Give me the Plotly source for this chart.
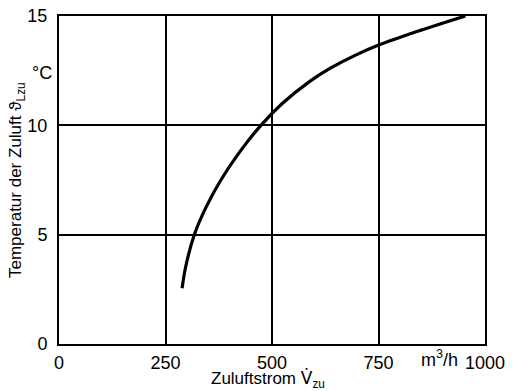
import plotly.graph_objects as go

# Curve data (supply air flow m3/h, supply air temperature °C)
flow = [289, 297, 317.6, 345, 380, 423, 474, 524, 588, 636, 695, 752, 842, 954]
temp = [2.55, 3.5, 5.0, 6.25, 7.5, 8.75, 10.0, 11.0, 12.0, 12.6, 13.2, 13.68, 14.3, 15.0]

x_ticks = [0, 250, 500, 750, 1000]
x_ticktext = ["0", "250", "500", "750", "1000"]
y_ticks = [0, 5, 10, 15]
y_ticktext = ["0", "5", "10", "15"]

FONT = "Liberation Sans"

fig = go.Figure()
fig.add_trace(go.Scatter(x=flow, y=temp, mode="lines",
                         line=dict(color="black", width=3.2, shape="spline", smoothing=1.0),
                         showlegend=False, hoverinfo="skip"))

fig.update_layout(
    width=513, height=391,
    margin=dict(l=59, r=28, t=16, b=47),
    paper_bgcolor="white", plot_bgcolor="white",
    font=dict(family=FONT, size=18, color="black"),
    xaxis=dict(range=[0, 1000], tickvals=x_ticks, ticktext=x_ticktext, automargin=False,
               showgrid=True, gridcolor="black", gridwidth=1.5,
               showline=True, linecolor="black", linewidth=2, mirror=True,
               zeroline=False, ticks="", ticklabelstandoff=1),
    yaxis=dict(range=[0, 15], tickvals=y_ticks, ticktext=y_ticktext, automargin=False,
               showgrid=True, gridcolor="black", gridwidth=1.5,
               showline=True, linecolor="black", linewidth=2, mirror=True,
               zeroline=False, ticks="", ticklabelstandoff=6),
)

# axis titles
fig.add_annotation(x=0.49, xref="paper", xanchor="center", y=0, yref="paper", yanchor="middle", yshift=-35,
                   text="Zuluftstrom <span style=\"font-family:'DejaVu Sans'\">V\u0307</span><sub>zu</sub>",
                   showarrow=False, font=dict(size=17))
fig.add_annotation(x=0, xref="paper", xanchor="center", xshift=-42, y=0.5, yref="paper", yanchor="middle",
                   textangle=-90, text="Temperatur der Zuluft \u03d1<sub>Lzu</sub>",
                   showarrow=False, font=dict(size=17))

fig.add_annotation(x=0, xref="paper", xanchor="right", xshift=-5, y=12.4, yref="y",
                   text="\u00b0C", showarrow=False, font=dict(size=18))
fig.add_annotation(x=894, xref="x", xanchor="center", y=0, yref="paper", yanchor="top", yshift=-1,
                   text="m<sup>3</sup>/h", showarrow=False, font=dict(size=18))

fig.write_html("out.html")
